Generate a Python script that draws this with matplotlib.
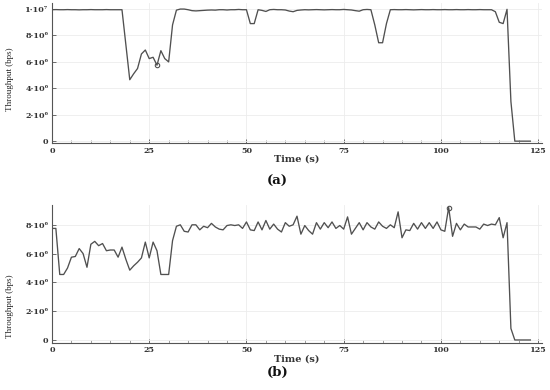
import numpy as np
import matplotlib
matplotlib.use("Agg")
import matplotlib.pyplot as plt
import matplotlib.ticker as ticker

# throughput in Mbps, one sample per second starting at t = 0
throughput_a = [
    9.95, 9.96, 9.95, 9.95, 9.96, 9.95, 9.95, 9.94, 9.95, 9.95,
    9.96, 9.95, 9.95, 9.95, 9.96, 9.95, 9.95, 9.95, 9.95, 7.3,
    4.65, 5.1, 5.5, 6.6, 6.9, 6.25, 6.35, 5.75, 6.85, 6.25,
    6.0, 8.8, 9.92, 10.0, 10.0, 9.95, 9.88, 9.86, 9.88, 9.9,
    9.92, 9.93, 9.92, 9.95, 9.95, 9.93, 9.95, 9.95, 9.97, 9.95,
    9.95, 8.9, 8.9, 9.95, 9.9, 9.82, 9.95, 9.97, 9.95, 9.95,
    9.93, 9.85, 9.8, 9.9, 9.93, 9.95, 9.94, 9.95, 9.96, 9.95,
    9.94, 9.95, 9.96, 9.95, 9.95, 9.97, 9.95, 9.93, 9.88, 9.84,
    9.95, 9.97, 9.95, 8.8, 7.45, 7.45, 8.9, 9.95, 9.96, 9.95,
    9.95, 9.96, 9.95, 9.94, 9.95, 9.96, 9.95, 9.95, 9.96, 9.95,
    9.95, 9.96, 9.95, 9.95, 9.96, 9.95, 9.95, 9.96, 9.95, 9.95,
    9.96, 9.95, 9.95, 9.95, 9.8, 9.0, 8.9, 9.98, 3.0, 0.0,
    0.0, 0.0, 0.0, 0.0,
]
throughput_b = [
    7.75, 7.75, 4.55, 4.55, 5.0, 5.75, 5.8, 6.35, 6.0, 5.05,
    6.65, 6.85, 6.55, 6.7, 6.2, 6.25, 6.25, 5.75, 6.45, 5.6,
    4.85, 5.15, 5.4, 5.7, 6.8, 5.7, 6.8, 6.2, 4.55, 4.55,
    4.55, 6.9, 7.9, 8.0, 7.55, 7.5, 8.0, 8.0, 7.65, 7.9,
    7.8, 8.1, 7.85, 7.7, 7.65, 7.95, 8.0, 7.95, 8.0, 7.75,
    8.2, 7.65, 7.6, 8.2, 7.65, 8.3, 7.7, 8.05, 7.7, 7.5,
    8.15, 7.9, 8.0, 8.6, 7.35, 7.95, 7.6, 7.35, 8.15, 7.7,
    8.15, 7.8, 8.2, 7.75, 7.95, 7.7, 8.55, 7.35, 7.75, 8.15,
    7.65, 8.15, 7.85, 7.7, 8.2, 7.9, 7.75, 8.0, 7.8, 8.9,
    7.1, 7.65, 7.6, 8.1, 7.7, 8.15, 7.75, 8.15, 7.75, 8.2,
    7.65, 7.55, 9.2, 7.2, 8.1, 7.65, 8.05, 7.85, 7.85, 7.85,
    7.7, 8.05, 7.95, 8.05, 8.0, 8.5, 7.1, 8.15, 0.8, 0.0,
    0.0, 0.0, 0.0, 0.0,
]
marked_a = [27]
marked_b = [102]
x_ticks = [0, 25, 50, 75, 100, 125]
y_ticks_a = [0, 2e6, 4e6, 6e6, 8e6, 1e7]
y_ticks_b = [0, 2e6, 4e6, 6e6, 8e6]

SUP = str.maketrans("0123456789", "⁰¹²³⁴⁵⁶⁷⁸⁹")


def sci_label(v, pos):
    if v == 0:
        return "0"
    exp = int(np.floor(np.log10(v) + 1e-9))
    mant = v / 10 ** exp
    return f"{mant:g}·10{str(exp).translate(SUP)}"


fig = plt.figure(figsize=(5.5, 3.9), dpi=100)
ax_a = fig.add_axes([0.0945, 0.633, 0.891, 0.359])
ax_b = fig.add_axes([0.0945, 0.1205, 0.891, 0.354])

panels = [
    (ax_a, throughput_a, marked_a, y_ticks_a, (-0.15e6, 10.45e6), 0.46, "(a)", 0.535),
    (ax_b, throughput_b, marked_b, y_ticks_b, (-0.21e6, 9.38e6), 0.27, "(b)", 0.046),
]

for ax, values, marks, yticks, ylim, ylab_y, tag, tag_y in panels:
    t = np.arange(len(values))
    y = np.array(values) * 1e6
    ax.plot(t, y, color="#505050", linewidth=0.95, marker="o", markevery=marks,
            markersize=3.2, markerfacecolor="none", markeredgecolor="#505050",
            markeredgewidth=0.8)

    ax.set_xlim(0, 126)
    ax.set_ylim(*ylim)
    ax.set_xticks(x_ticks)
    ax.xaxis.set_minor_locator(ticker.MultipleLocator(5))
    ax.set_yticks(yticks)
    ax.yaxis.set_major_formatter(ticker.FuncFormatter(sci_label))

    ax.grid(True, which="major", color="#ececec", linewidth=0.6)
    ax.set_axisbelow(True)
    for side in ["top", "right"]:
        ax.spines[side].set_visible(False)
    for side in ["left", "bottom"]:
        ax.spines[side].set_color("#555555")
        ax.spines[side].set_linewidth(0.8)

    ax.tick_params(axis="both", which="major", direction="in", length=3,
                   width=0.6, color="#555555", pad=2.5)
    ax.tick_params(axis="x", which="minor", direction="in", length=2,
                   width=0.5, color="#777777")
    for lbl in ax.get_xticklabels() + ax.get_yticklabels():
        lbl.set_fontfamily("DejaVu Serif")
        lbl.set_fontsize(5.8)
        lbl.set_fontweight("bold")
        lbl.set_color("#333333")

    ax.set_xlabel("Time (s)", fontfamily="DejaVu Serif", fontsize=7,
                  fontweight="bold", color="#333333", labelpad=1)
    ax.xaxis.set_label_coords(0.5, -0.085)
    ax.set_ylabel("Throughput (bps)", fontfamily="Liberation Serif",
                  fontsize=6.5, color="#222222")
    ax.yaxis.set_label_coords(-0.078, ylab_y)

    fig.text(0.504, tag_y, tag, ha="center", va="center",
             fontfamily="DejaVu Serif", fontsize=9.5, fontweight="bold",
             color="#111111")

fig.savefig("out.png", dpi=100)
